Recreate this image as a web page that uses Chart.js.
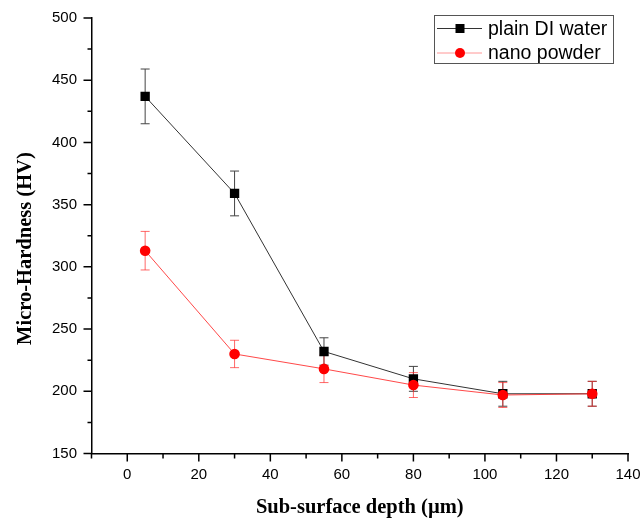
<!DOCTYPE html>
<html>
<head>
<meta charset="utf-8">
<title>Micro-hardness vs depth</title>
<script src="https://cdn.jsdelivr.net/npm/chart.js@4/dist/chart.umd.min.js"></script>
<style>
  html, body { margin: 0; padding: 0; background: #fff; }
  #wrap { width: 643px; height: 520px; }
</style>
</head>
<body>
<div id="wrap"><canvas id="chart" width="643" height="520"></canvas></div>
<script>
// Data
const depths = [5, 30, 55, 80, 105, 130];
const plainMean = [437, 359, 232, 210, 198, 198];
const plainErr = [22, 18, 11, 10, 10, 10];
const nanoMean = [313, 230, 218, 205, 197, 198];
const nanoErr = [15.5, 11, 11, 10, 10, 10];
const seriesNames = ['plain DI water', 'nano powder'];

const tickFont = { family: "'Liberation Sans', Arial, sans-serif", size: 15 };
const titleFont = { family: "'Liberation Serif', 'Times New Roman', serif", size: 20.5, weight: 'bold' };

function toPoints(ys) {
    return depths.map((x, i) => ({ x: x, y: ys[i] }));
}

// keep the plot area where the layout padding puts it
function fixScale(s, w, h) {
    if (w) s.width = w;
    if (h) s.height = h;
    s.paddingTop = 0;
    s.paddingBottom = 0;
    s.paddingLeft = 0;
    s.paddingRight = 0;
}

// Error bars drawn through the scales
const errorBars = {
    id: 'errorBars',
    beforeDatasetsDraw(chart) {
        const ctx = chart.ctx;
        const xs = chart.scales.x, ys = chart.scales.y;
        chart.data.datasets.forEach(ds => {
            ctx.save();
            ctx.strokeStyle = ds.errColor;
            ctx.lineWidth = 1;
            ds.data.forEach((p, i) => {
                const px = xs.getPixelForValue(p.x);
                const top = ys.getPixelForValue(p.y + ds.err[i]);
                const bot = ys.getPixelForValue(p.y - ds.err[i]);
                ctx.beginPath();
                ctx.moveTo(px, top); ctx.lineTo(px, bot);
                ctx.moveTo(px - 4.5, top); ctx.lineTo(px + 4.5, top);
                ctx.moveTo(px - 4.5, bot); ctx.lineTo(px + 4.5, bot);
                ctx.stroke();
            });
            ctx.restore();
        });
    }
};

// Outward tick marks, major and minor
const tickMarks = {
    id: 'tickMarks',
    afterDraw(chart) {
        const ctx = chart.ctx;
        const xs = chart.scales.x, ys = chart.scales.y;
        ctx.save();
        ctx.strokeStyle = '#000';
        ctx.lineWidth = 1.5;
        ctx.beginPath();
        ys.ticks.forEach(t => {
            const y = ys.getPixelForValue(t.value);
            const len = t.value % 50 === 0 ? 8 : 4;
            ctx.moveTo(xs.left - len, y); ctx.lineTo(xs.left, y);
        });
        xs.ticks.forEach(t => {
            const x = xs.getPixelForValue(t.value);
            const len = t.value % 20 === 0 ? 8 : 5;
            ctx.moveTo(x, ys.bottom); ctx.lineTo(x, ys.bottom + len);
        });
        ctx.stroke();
        ctx.restore();
    }
};

// Boxed legend with line + marker samples
const boxLegend = {
    id: 'boxLegend',
    afterDraw(chart) {
        const ctx = chart.ctx;
        const bx = 434, by = 15, bw = 179, bh = 48;
        ctx.save();
        ctx.strokeStyle = '#555';
        ctx.lineWidth = 1;
        ctx.strokeRect(bx + 0.5, by + 0.5, bw, bh);
        ctx.font = "19.5px 'Liberation Sans', Arial, sans-serif";
        ctx.textBaseline = 'middle';
        ctx.fillStyle = '#000';
        chart.data.datasets.forEach((ds, i) => {
            const y = by + 13.5 + i * 24.5;
            ctx.strokeStyle = ds.legendLine;
            ctx.lineWidth = 1;
            ctx.beginPath();
            ctx.moveTo(bx + 3, y); ctx.lineTo(bx + 48, y);
            ctx.stroke();
            ctx.fillStyle = ds.pointBackgroundColor;
            ctx.beginPath();
            if (ds.pointStyle === 'rect') {
                ctx.rect(bx + 26 - 4.5, y - 4.5, 9, 9);
            } else {
                ctx.arc(bx + 26, y, 5, 0, Math.PI * 2);
            }
            ctx.fill();
            ctx.fillStyle = '#000';
            ctx.fillText(ds.label, bx + 54, y + 1);
        });
        ctx.restore();
    }
};

const chart = new Chart(document.getElementById('chart'), {
    type: 'line',
    data: {
        datasets: [{
            label: seriesNames[0],
            data: toPoints(plainMean),
            err: plainErr,
            errColor: '#444',
            legendLine: '#333',
            borderColor: '#333',
            borderWidth: 1,
            pointStyle: 'rect',
            pointRadius: 6.6,
            pointBackgroundColor: '#000',
            pointBorderWidth: 0,
            order: 1
        }, {
            label: seriesNames[1],
            data: toPoints(nanoMean),
            err: nanoErr,
            errColor: 'rgba(255,40,40,0.7)',
            legendLine: 'rgba(255,80,80,0.6)',
            borderColor: 'rgba(255,40,40,0.85)',
            borderWidth: 1,
            pointStyle: 'circle',
            pointRadius: 5.3,
            pointBackgroundColor: '#ff0000',
            pointBorderWidth: 0,
            order: 0
        }]
    },
    options: {
        responsive: false,
        animation: false,
        layout: { padding: { top: 18, right: 15, left: 0, bottom: 0 } },
        plugins: {
            legend: { display: false },
            tooltip: { enabled: false }
        },
        scales: {
            x: {
                type: 'linear',
                min: -10,
                max: 140,
                grid: { display: false, drawTicks: false },
                border: { display: true, color: '#000', width: 1.5 },
                ticks: {
                    stepSize: 10,
                    autoSkip: false,
                    maxRotation: 0,
                    padding: 12,
                    color: '#000',
                    font: tickFont,
                    callback: v => (v % 20 === 0 ? v : '')
                },
                title: {
                    display: true,
                    text: 'Sub-surface depth (\u00b5m)',
                    color: '#000',
                    font: titleFont,
                    padding: { top: 0, bottom: 0 }
                },
                afterFit: s => fixScale(s, 0, 66.5)
            },
            y: {
                min: 150,
                max: 500,
                grid: { display: false, drawTicks: false },
                border: { display: true, color: '#000', width: 1.5 },
                ticks: {
                    stepSize: 25,
                    autoSkip: false,
                    padding: 14.5,
                    color: '#000',
                    font: tickFont,
                    callback: v => (v % 50 === 0 ? v : '')
                },
                title: {
                    display: true,
                    // trailing spaces push the label down like in the original
                    text: 'Micro-Hardness (HV)\u00a0\u00a0\u00a0\u00a0\u00a0',
                    color: '#000',
                    font: titleFont,
                    padding: { top: 13, bottom: 0 }
                },
                afterFit: s => fixScale(s, 91.5, 0)
            }
        }
    },
    plugins: [errorBars, tickMarks, boxLegend]
});
</script>
</body>
</html>
